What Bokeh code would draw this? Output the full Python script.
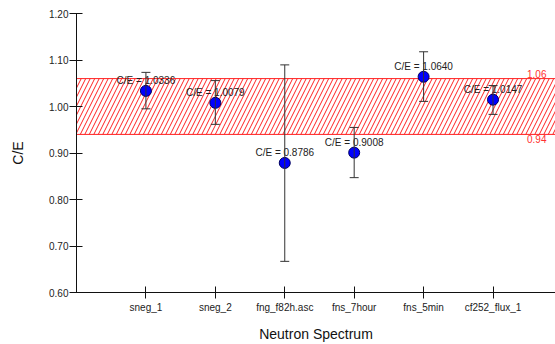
from bokeh.plotting import figure
from bokeh.models import (ColumnDataSource, FixedTicker, Range1d, Whisker, TeeHead,
                          BoxAnnotation, NumeralTickFormatter, Label)
from bokeh.core.properties import value
from bokeh.embed import file_html
from bokeh.resources import INLINE

spectra = ["sneg_1", "sneg_2", "fng_f82h.asc", "fns_7hour", "fns_5min", "cf252_flux_1"]
ce = [1.0336, 1.0079, 0.8786, 0.9008, 1.0640, 1.0147]
err_hi = [1.0734, 1.0557, 1.0895, 0.955, 1.1177, 1.045]
err_lo = [0.995, 0.9616, 0.667, 0.847, 1.011, 0.983]
band_lo = 0.94
band_hi = 1.06
y_ticks = [0.6, 0.7, 0.8, 0.9, 1.0, 1.1, 1.2]

xpos = list(range(1, len(spectra) + 1))
labels = ["C/E = %.4f" % v for v in ce]
src = ColumnDataSource(dict(x=xpos, y=ce, hi=err_hi, lo=err_lo, lab=labels))

FONT = "Liberation Sans"
x_end = 6.9

p = figure(width=555, height=344, output_backend="svg", toolbar_location=None,
           x_range=Range1d(0, x_end), y_range=Range1d(0.6, 1.2),
           min_border_left=76, min_border_right=0, min_border_top=13, min_border_bottom=46)
p.outline_line_color = None
p.grid.visible = False
p.background_fill_color = "white"
p.border_fill_color = "white"

band = BoxAnnotation(bottom=band_lo, top=band_hi, fill_alpha=0, level="underlay",
                     line_color="#ff2020", line_width=1, line_alpha=1,
                     hatch_pattern="/", hatch_color="#ff2020", hatch_scale=9,
                     hatch_weight=1, hatch_alpha=1)
p.add_layout(band)

p.add_layout(Label(x=x_end - 0.13, y=band_hi, text="%.2f" % band_hi, text_align="right",
                   text_baseline="bottom", y_offset=1, text_color="#ff3030",
                   text_font=FONT, text_font_size="10px"))
p.add_layout(Label(x=x_end - 0.13, y=band_lo, text="%.2f" % band_lo, text_align="right",
                   text_baseline="top", y_offset=-1, text_color="#ff3030",
                   text_font=FONT, text_font_size="10px"))

p.text(x="x", y="y", text="lab", source=src, y_offset=-10, text_align="center",
       text_baseline="middle", text_font=value(FONT), text_font_size="10px",
       text_color="#222222")

wh = Whisker(base="x", upper="hi", lower="lo", source=src, line_color="#333333", line_width=1,
             level="glyph",
             upper_head=TeeHead(size=9, line_color="#333333", line_width=1),
             lower_head=TeeHead(size=9, line_color="#333333", line_width=1))
p.add_layout(wh)

p.scatter(x="x", y="y", source=src, size=11, fill_color="#0000ff", line_color="#000060",
          line_width=1)

p.xaxis.ticker = FixedTicker(ticks=xpos)
p.xaxis.major_label_overrides = {i: s for i, s in zip(xpos, spectra)}
p.xaxis.minor_tick_line_color = None
p.xaxis.major_tick_out = 6
p.xaxis.major_tick_in = 6
p.xaxis.major_label_standoff = 3
p.xaxis.axis_label = "Neutron Spectrum"
p.xaxis.axis_label_standoff = 10

p.yaxis.ticker = FixedTicker(ticks=y_ticks)
p.yaxis.formatter = NumeralTickFormatter(format="0.00")
p.yaxis.minor_tick_line_color = None
p.yaxis.major_tick_out = 7
p.yaxis.major_tick_in = 6
p.yaxis.major_label_standoff = 1
p.yaxis.axis_label = "C/E"
p.yaxis.axis_label_standoff = 20

for ax in (p.xaxis[0], p.yaxis[0]):
    ax.axis_line_color = "#111111"
    ax.major_tick_line_color = "#111111"
    ax.major_label_text_font = FONT
    ax.major_label_text_font_size = "10px"
    ax.major_label_text_color = "#222222"
    ax.axis_label_text_font = FONT
    ax.axis_label_text_font_size = "14px"
    ax.axis_label_text_font_style = "normal"
    ax.axis_label_text_color = "#111111"

open("out.html", "w").write(file_html(p, INLINE))
